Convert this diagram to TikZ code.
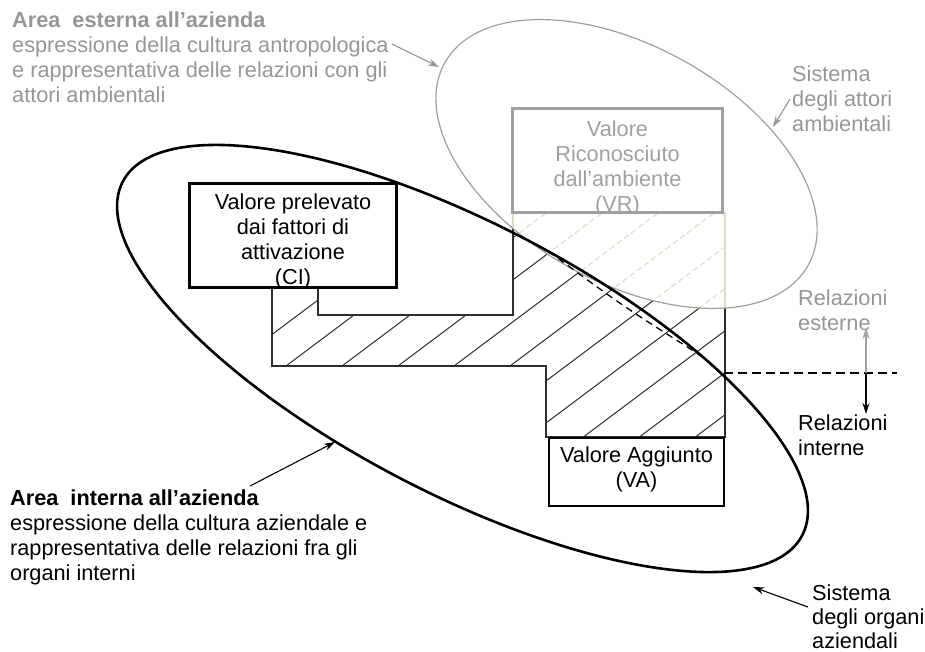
\documentclass[tikz,border=0pt]{standalone}
\usepackage{fontspec}
\setmainfont{Liberation Sans}
\usetikzlibrary{arrows.meta}
\definecolor{paleline}{RGB}{220,220,190}
\definecolor{ellgrey}{RGB}{160,160,150}
\definecolor{txtgrey}{RGB}{150,150,150}
\definecolor{boxgrey}{RGB}{160,160,160}
\definecolor{outl}{RGB}{45,45,45}
\begin{document}
\begin{tikzpicture}[x=1pt,y=-1pt,
  txt/.style={font=\fontsize{21.7}{25}\selectfont, inner sep=0pt, align=left, anchor=base west},
  ctxt/.style={font=\fontsize{21.7}{24.7}\selectfont, inner sep=0pt, align=center, anchor=base},
  blackbox/.style={draw=black, line width=2.4pt, fill=white, inner sep=0pt},
  greybox/.style={draw=boxgrey, line width=2.4pt, fill=white, inner sep=0pt},
  ptr/.style={-{Stealth[length=11pt,width=7pt]}, line width=1.1pt},
  hatchblack/.style={outl, line width=1pt},
  hatchpale/.style={paleline, line width=1pt, dash pattern=on 6pt off 3pt},
]
\useasboundingbox (0,0) rectangle (925,651);

% hatched value area (black part)
\begin{scope}
  \clip (272,288) -- (272,366) -- (546,366) -- (546,437) -- (725,437) -- (725,213) -- (513,213) -- (513,315) -- (318,315) -- (318,288) -- cycle;
  \foreach \k in {-1,...,11} {
    \draw[hatchblack] ({286+56*\k+354.7},100) -- ({286+56*\k-178.7},500);
  }
\end{scope}
% hatched value area (pale part inside environment ellipse)
\begin{scope}
  \clip (272,288) -- (272,366) -- (546,366) -- (546,437) -- (725,437) -- (725,213) -- (513,213) -- (513,315) -- (318,315) -- (318,288) -- cycle;
  \clip[rotate around={-29.1:(626.5,164)}] (626.5,164) ellipse [x radius=208, y radius=118];
  \fill[white] (250,100) rectangle (800,500);
  \foreach \k in {-1,...,11} {
    \draw[hatchpale] ({286+56*\k+354.7},100) -- ({286+56*\k-178.7},500);
  }
\end{scope}
% outline of the value area
\draw[outl, line width=1.1pt] (272,288) -- (272,366) -- (546,366) -- (546,437) -- (725,437) -- (725,213) -- (513,213) -- (513,315) -- (318,315) -- (318,288);
\begin{scope}
  \clip[rotate around={-29.1:(626.5,164)}] (626.5,164) ellipse [x radius=208, y radius=118];
  \draw[white, line width=2.5pt] (725,437) -- (725,213) -- (513,213) -- (513,315);
  \draw[paleline, line width=1.1pt] (725,437) -- (725,213) -- (513,213) -- (513,315);
\end{scope}

% environment ellipse (grey)
\draw[ellgrey, line width=1.2pt, rotate around={-29.1:(626.5,164)}] (626.5,164) ellipse [x radius=208, y radius=118];
% company ellipse (black)
\draw[black, line width=2.6pt, rotate around={-27.5:(462.5,358.5)}] (462.5,358.5) ellipse [x radius=383, y radius=135];
% dashed boundary under the black ellipse
\draw[black, line width=1.3pt, dash pattern=on 7pt off 5pt, shift={(462.5,358.5)}, rotate=-27.5]
  plot[domain=-86:-56, samples=40, smooth] ({383*cos(\x)}, {(135-7.5*sin(180*(\x+86)/30))*sin(\x)});

% horizontal dashed separation and arrows
\coordinate (hl) at (724,373);
\coordinate (hr) at (897,373);
\coordinate (va) at (866,373);
\coordinate (vtop) at (866,328);
\coordinate (vbot) at (866,414);
\draw[black, line width=1.3pt, dash pattern=on 9pt off 5pt] (hl) -- (hr);
\draw[ptr, draw=boxgrey, fill=boxgrey] (va) -- (vtop);
\draw[ptr, black] (va) -- (vbot);

% boxes
\node[blackbox, minimum width=206pt, minimum height=103pt] (ci) at (293,235.5) {};
\begin{scope}
  \clip (ci.south west) rectangle (ci.north east);
  \node[ctxt] (citxt) at (293,284) {Valore prelevato\\dai fattori di\\attivazione\\(CI)};
\end{scope}
\draw[black, line width=2.4pt] (ci.south west) rectangle (ci.north east);

\node[greybox, minimum width=209pt, minimum height=103pt] (vr) at (617.5,160.5) {};
\begin{scope}
  \clip (vr.south west) rectangle (vr.north east);
  \node[ctxt, text=boxgrey] (vrtxt) at (617.5,211) {Valore\\Riconosciuto\\dall'ambiente\\(VR)};
\end{scope}
\draw[boxgrey, line width=2.4pt] (vr.south west) rectangle (vr.north east);

\node[blackbox, minimum width=175pt, minimum height=68pt] (va box) at (636.5,472) {};
\node[ctxt] (vatxt) at (636.5,487) {Valore Aggiunto\\(VA)};

% texts
\node[txt, text=txtgrey] (ext) at (12,102) {\textbf{Area\ \ esterna all’azienda}\\espressione della cultura antropologica\\e rappresentativa delle relazioni con gli\\attori ambientali};
\node[txt, text=txtgrey] (attori) at (792,131) {Sistema\\degli attori\\ambientali};
\node[txt, text=txtgrey] (relest) at (798,330) {Relazioni\\esterne};
\node[txt] (relint) at (798,455) {Relazioni\\interne};
\node[txt] (int) at (10,580) {\textbf{Area\ \ interna all’azienda}\\espressione della cultura aziendale e\\rappresentativa delle relazioni fra gli\\organi interni};
\node[txt, font=\fontsize{21.7}{24}\selectfont] (organi) at (812,648) {Sistema\\degli organi\\aziendali};

% pointer arrows
\coordinate (p1s) at (392,44);
\coordinate (p1e) at (439,67);
\coordinate (p2s) at (790,99);
\coordinate (p2e) at (773,127);
\coordinate (p3s) at (250,486);
\coordinate (p3e) at (335,442);
\coordinate (p4s) at (808,607);
\coordinate (p4e) at (753,587);
\draw[ptr, draw=txtgrey, fill=txtgrey] (p1s) -- (p1e);
\draw[ptr, draw=txtgrey, fill=txtgrey] (p2s) -- (p2e);
\draw[ptr, black] (p3s) -- (p3e);
\draw[ptr, black] (p4s) -- (p4e);
\end{tikzpicture}
\end{document}
